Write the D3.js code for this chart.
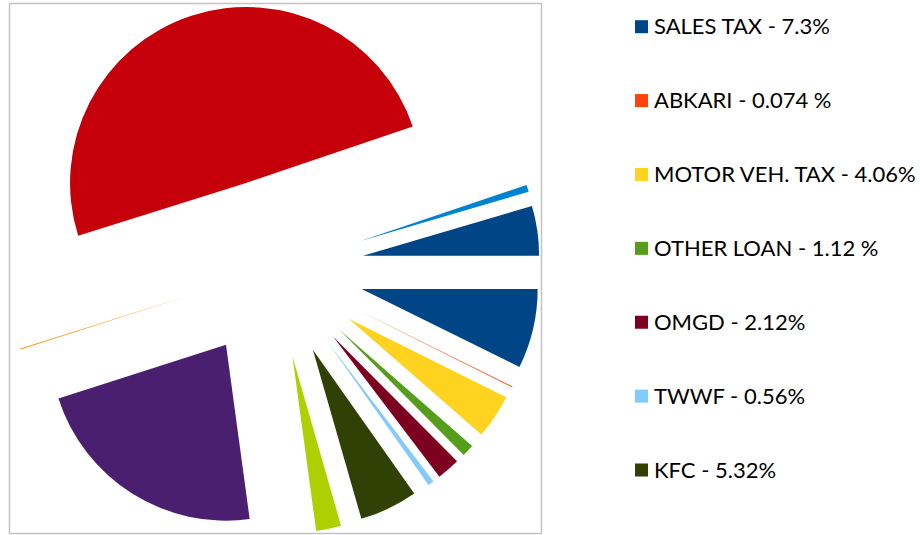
<!DOCTYPE html>
<html>
<head>
<meta charset="utf-8">
<script src="https://cdn.jsdelivr.net/npm/d3@7"></script>
<style>
    body { margin: 0; background: #fff; }
    text { font-family: Lato, "Open Sans", sans-serif; }
</style>
</head>
<body>
<div id="chart-area"></div>
<script>
// slice shares in %, clockwise from 3 o'clock (only first 7 are in the legend)
var shares = [7.3, 0.074, 4.06, 1.12, 2.12, 0.56, 5.32, 2.3, 22.2, 0.1, 49.65, 0.65, 4.55];
var legendLabels = ["SALES TAX - 7.3%", "ABKARI - 0.074 %", "MOTOR VEH. TAX - 4.06%",
    "OTHER LOAN - 1.12 %", "OMGD - 2.12%", "TWWF - 0.56%", "KFC - 5.32%"];

var palette = ["#004586", "#ff420e", "#ffd320", "#579d1c", "#7e0021", "#83caff",
    "#314004", "#aecf00", "#4b1f6f", "#ff950e", "#c5000b", "#0084d1", "#004586"];

var width = 920, height = 535;
var radius = 176, explode = 90;
var cx = 274, cy = 268.5;

var svg = d3.select("#chart-area")
    .append("svg")
    .attr("width", width)
    .attr("height", height);

// chart frame
svg.append("rect")
    .attr("x", 9.5)
    .attr("y", 3.5)
    .attr("width", 532)
    .attr("height", 530)
    .attr("fill", "none")
    .attr("stroke", "#c3c3c3")
    .attr("stroke-width", 1.5);

var pie = d3.pie()
    .sort(null)
    .startAngle(Math.PI / 2)
    .endAngle(Math.PI / 2 + 2 * Math.PI);

var arc = d3.arc()
    .innerRadius(0)
    .outerRadius(radius);

var g = svg.append("g")
    .attr("transform", `translate(${cx}, ${cy})`);

g.selectAll("path")
    .data(pie(shares))
    .enter()
    .append("path")
    .attr("d", arc)
    .attr("fill", (d, i) => palette[i])
    .attr("transform", d => {
        var a = (d.startAngle + d.endAngle) / 2;
        return `translate(${explode * Math.sin(a)}, ${-explode * Math.cos(a)})`;
    });

// legend
var y = d3.scalePoint()
    .domain(legendLabels)
    .range([26.7, 470]);

var legend = svg.selectAll(".legend")
    .data(legendLabels)
    .enter()
    .append("g")
    .attr("class", "legend")
    .attr("transform", d => `translate(635, ${y(d)})`);

legend.append("rect")
    .attr("x", 0)
    .attr("y", -6.5)
    .attr("width", 13)
    .attr("height", 13)
    .attr("fill", (d, i) => palette[i]);

legend.append("text")
    .attr("x", 19)
    .attr("y", 7.5)
    .attr("font-size", "22px")
    .attr("fill", "#000")
    .text(d => d);
</script>
</body>
</html>
